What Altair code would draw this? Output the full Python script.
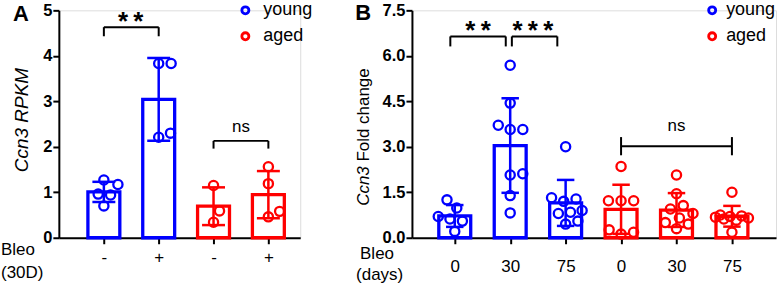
import json
import altair as alt
import numpy as np
import pandas as pd

FONT = "Liberation Sans"
BLUE = "#0000ff"
RED = "#ff0000"
AGES = ["young", "aged"]

# ---------------- data ----------------
# Panel A: Ccn3 RPKM, Bleo (30D) - / +
a_ticklabels = ["-", "+", "-", "+"]
a_age = ["young", "young", "aged", "aged"]
a_values = [
    [1.17, 1.27, 0.96, 0.94, 0.70],
    [3.83, 3.83, 2.21, 2.30],
    [1.15, 0.59, 0.34],
    [1.56, 1.19, 0.58, 0.46],
]

# Panel B: Ccn3 fold change, Bleo (days) 0 / 30 / 75
b_ticklabels = ["0", "30", "75", "0", "30", "75"]
b_age = ["young", "young", "young", "aged", "aged", "aged"]
b_values = [
    [1.25, 0.98, 0.70, 0.62, 0.55, 0.21],
    [5.69, 4.44, 3.71, 3.57, 3.57, 2.11, 2.07, 1.39, 0.82],
    [3.00, 1.32, 1.28, 1.20, 0.90, 0.84, 0.80, 0.55, 0.45],
    [2.35, 1.22, 1.22, 1.22, 0.26, 0.18, 0.12],
    [2.07, 1.45, 1.06, 0.95, 0.80, 0.65, 0.50, 0.45, 0.30],
    [1.50, 0.75, 0.72, 0.70, 0.68, 0.65, 0.62, 0.58, 0.18],
]

TS = "\u2009"  # thin space between asterisks
# significance annotations: (x1, x2, y of bar, y of drop, label, label x)
a_brackets = [(1, 2, 4.63, 4.43, TS.join("**"), 1.49), (3, 4, 2.13, 1.96, "ns", 3.5)]
b_brackets = [(0.92, 1.92, 6.64, 6.31, TS.join("**"), 1.42),
              (2.03, 2.85, 6.64, 6.31, TS.join("***"), 2.41)]
# B: ns over aged groups, with end ticks
b_ns = [(4, 6, 3.02, 2.72, 3.32, 5)]


def swarm(vals, ypx, xpx, d=13.0, maxoff=17.0):
    """simple beeswarm: horizontal offsets (in x data units) so circles do not overlap"""
    placed = []
    offs = [0.0] * len(vals)
    order = sorted(range(len(vals)), key=lambda i: vals[i])
    for i in order:
        y = vals[i] * ypx
        cands = [0.0]
        for px, py in placed:
            dy = abs(y - py)
            if dy < d:
                dx = (d * d - dy * dy) ** 0.5
                cands += [px + dx, px - dx]
        cands.sort(key=abs)
        best = None
        for c in cands:
            if abs(c) > maxoff:
                continue
            if all((c - px) ** 2 + (y - py) ** 2 >= d * d - 1e-6 for px, py in placed):
                best = c
                break
        if best is None:
            grid = np.linspace(-maxoff, maxoff, 35)
            best = max(grid, key=lambda c: min((c - px) ** 2 + (y - py) ** 2 for px, py in placed))
        placed.append((best, y))
        offs[i] = best / xpx
    return offs


ONE = alt.Data(values=[{"k": 0}])


def txt(text, x, y, size=17, weight="normal", style="normal", align="center", angle=0, baseline="middle"):
    kw = dict(text=text, font=FONT, fontSize=size, fontWeight=weight, fontStyle=style,
              align=align, baseline=baseline, color="black")
    if angle:
        kw["angle"] = angle
    return alt.Chart(ONE).mark_text(**kw).encode(x=alt.value(x), y=alt.value(y))


def legend(cx, tx):
    out = []
    for k, (age, col) in enumerate(zip(AGES, [BLUE, RED])):
        y = 0 + 26 * k
        out.append(alt.Chart(ONE).mark_point(shape="circle", filled=False, size=50, strokeWidth=2.8,
                                             color=col, opacity=1).encode(x=alt.value(cx), y=alt.value(y)))
        out.append(txt(age, tx, y, size=18, align="left"))
    return out


def panel(values, ticklabels, ages, xdom, ydom, yvals, yfmt, width, height, cap_px,
          labelpad, brackets, nsb, extra):
    xpx = width / (xdom[1] - xdom[0])
    ypx = height / (ydom[1] - ydom[0])
    rows, summ = [], []
    for gi, vals in enumerate(values):
        pos = gi + 1
        offs = swarm(vals, ypx, xpx)
        for v, o in zip(vals, offs):
            rows.append(dict(pos=pos, age=ages[gi], value=v, xj=pos + o))
        m = float(np.mean(vals))
        s = float(np.std(vals, ddof=1))
        hw = cap_px / 2 / xpx
        summ.append(dict(pos=pos, age=ages[gi], mean=m, lo=m - s, hi=m + s,
                         c1=pos - hw, c2=pos + hw))
    pts = pd.DataFrame(rows)
    sm = pd.DataFrame(summ)

    xscale = alt.Scale(domain=list(xdom), nice=False, zero=False)
    yscale = alt.Scale(domain=list(ydom), nice=False)
    cscale = alt.Scale(domain=AGES, range=[BLUE, RED])

    xaxis = alt.Axis(values=list(range(1, len(values) + 1)),
                     labelExpr=json.dumps(ticklabels) + "[datum.value - 1]",
                     title=None, grid=False, tickSize=6, tickWidth=2, domainWidth=2,
                     domainColor="black", tickColor="black", labelColor="black",
                     labelFont=FONT, labelFontSize=17, labelPadding=labelpad,
                     labelAngle=0, labelFlush=False)
    yaxis = alt.Axis(values=yvals, format=yfmt, title=None, grid=False, tickSize=6,
                     tickWidth=2, domainWidth=2, domainColor="black", tickColor="black",
                     labelColor="black", labelFont=FONT, labelFontSize=16.5,
                     labelFontWeight="bold", labelPadding=1)

    def X(f):
        return alt.X(f, scale=xscale, axis=xaxis)

    def Y(f):
        return alt.Y(f, scale=yscale, axis=yaxis)

    col = alt.Color("age:N", scale=cscale, legend=None)

    bars = alt.Chart(sm).mark_bar(size=32, fill="white", strokeWidth=3.3, orient="vertical").encode(
        x=X("pos:Q"), y=Y("mean:Q"),
        stroke=alt.Stroke("age:N", scale=cscale, legend=None),
    )
    err = alt.Chart(sm).mark_rule(strokeWidth=2.5).encode(x=X("pos:Q"), y=Y("lo:Q"), y2="hi:Q", color=col)
    cap_hi = alt.Chart(sm).mark_rule(strokeWidth=2.5).encode(x=X("c1:Q"), x2="c2:Q", y=Y("hi:Q"), color=col)
    cap_lo = alt.Chart(sm).mark_rule(strokeWidth=2.5).encode(x=X("c1:Q"), x2="c2:Q", y=Y("lo:Q"), color=col)
    points = alt.Chart(pts).mark_point(shape="circle", filled=False, size=85, strokeWidth=2.3,
                                       opacity=1).encode(x=X("xj:Q"), y=Y("value:Q"), color=col)

    layers = [bars, err, cap_hi, cap_lo, points]

    bdf = pd.DataFrame([dict(x1=b[0], x2=b[1], y=b[2], yd=b[3], lab=b[4], lx=b[5]) for b in brackets])
    layers += [
        alt.Chart(bdf).mark_rule(color="black", strokeWidth=2).encode(x=X("x1:Q"), x2="x2:Q", y=Y("y:Q")),
        alt.Chart(bdf).mark_rule(color="black", strokeWidth=2).encode(x=X("x1:Q"), y=Y("y:Q"), y2="yd:Q"),
        alt.Chart(bdf).mark_rule(color="black", strokeWidth=2).encode(x=X("x2:Q"), y=Y("y:Q"), y2="yd:Q"),
    ]
    sdf = bdf[bdf.lab != "ns"]
    if len(sdf):
        layers.append(alt.Chart(sdf).mark_text(font=FONT, fontSize=26, fontWeight="bold",
                                               baseline="alphabetic", dy=3, color="black").encode(
            x=X("lx:Q"), y=Y("y:Q"), text="lab:N"))
    ndf = bdf[bdf.lab == "ns"]
    if len(ndf):
        layers.append(alt.Chart(ndf).mark_text(font=FONT, fontSize=17, baseline="alphabetic",
                                               dy=-9, color="black").encode(
            x=X("lx:Q"), y=Y("y:Q"), text="lab:N"))
    if nsb:
        ndf2 = pd.DataFrame([dict(x1=b[0], x2=b[1], y=b[2], lo=b[3], hi=b[4], lx=b[5]) for b in nsb])
        layers += [
            alt.Chart(ndf2).mark_rule(color="black", strokeWidth=2).encode(x=X("x1:Q"), x2="x2:Q", y=Y("y:Q")),
            alt.Chart(ndf2).mark_rule(color="black", strokeWidth=2).encode(x=X("x1:Q"), y=Y("lo:Q"), y2="hi:Q"),
            alt.Chart(ndf2).mark_rule(color="black", strokeWidth=2).encode(x=X("x2:Q"), y=Y("lo:Q"), y2="hi:Q"),
            alt.Chart(ndf2).mark_text(text="ns", font=FONT, fontSize=17, baseline="alphabetic",
                                      dy=-6, color="black").encode(x=X("lx:Q"), y=Y("hi:Q")),
        ]

    return alt.layer(*(layers + extra)).properties(width=width, height=height)


H = 228
WA, WB = 242, 365

extraA = legend(187, 205) + [
    txt("A", -38, 4, size=22, weight="bold"),
    txt("Ccn3 RPKM", -37, 110, size=19, style="italic", angle=270),
    txt("Bleo", -58, 240, size=17, align="left"),
    txt("(30D)", -58, 263.5, size=17, align="left"),
]
extraB = legend(301, 315) + [
    txt("B", -49, 3, size=22, weight="bold"),
    txt("Ccn3", -48.5, 156.3, size=17, style="italic", angle=270, align="right"),
    txt("Fold change", -48.5, 151.6, size=17, angle=270, align="left"),
    txt("Bleo", -52, 244.5, size=17, align="left"),
    txt("(days)", -56, 265, size=17, align="left"),
]

pA = panel(a_values, a_ticklabels, a_age, (0.27, 4.49), (0, 5), [0, 1, 2, 3, 4, 5], "d",
           WA, H, 24, 6, a_brackets, None, extraA)
pB = panel(b_values, b_ticklabels, b_age, (0.3175, 6.705), (0, 7.5),
           [0, 1.5, 3.0, 4.5, 6.0, 7.5], ".1f", WB, H, 18, 15, b_brackets, b_ns, extraB)

chart = alt.hconcat(pA, pB, spacing=112, bounds="flush").properties(padding=0).configure_view(
    stroke=None).configure(font=FONT)

chart.save("out.html", embed_options={"renderer": "svg", "actions": False})
